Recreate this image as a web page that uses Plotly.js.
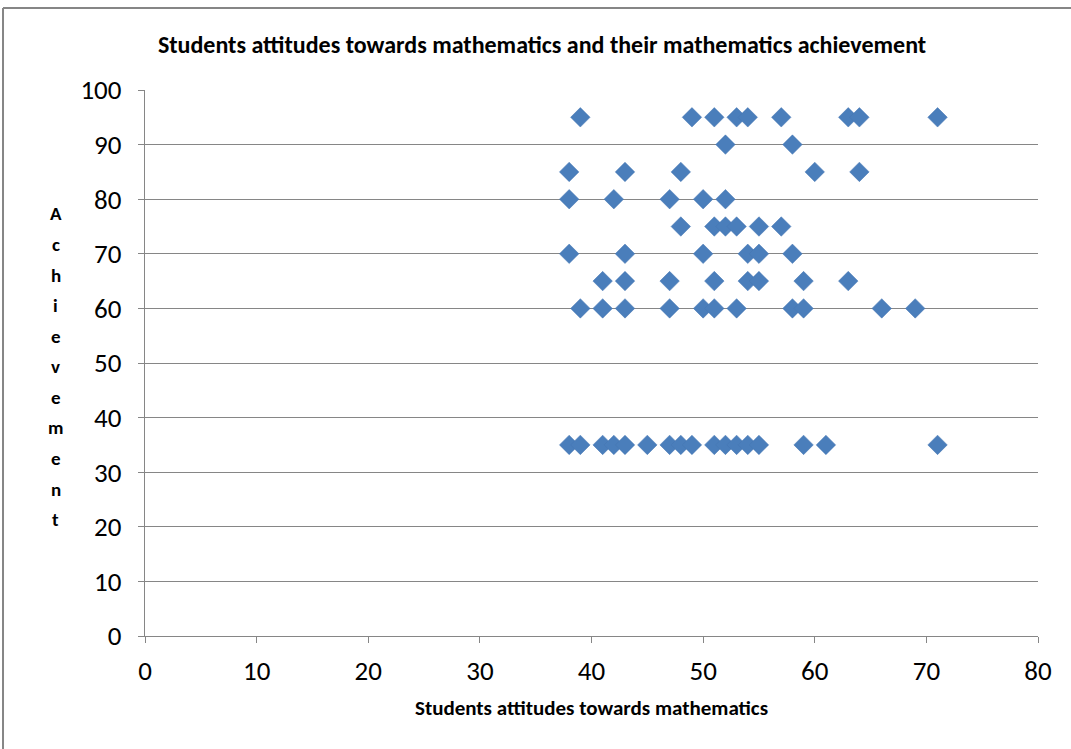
<!DOCTYPE html>
<html>
<head>
<meta charset="utf-8">
<script src="https://cdn.plot.ly/plotly-3.0.1.min.js"></script>
<style>
html,body{margin:0;padding:0;background:#fff;}
#chart{width:1071px;height:749px;}
</style>
</head>
<body>
<div id="chart"></div>
<script>
// Data: attitude score (x) and achievement (y)
const row95x = [39, 49, 51, 53, 54, 57, 63, 64, 71];
const row90x = [52, 58];
const row85x = [38, 43, 48, 60, 64];
const row80x = [38, 42, 47, 50, 52];
const row75x = [48, 51, 52, 53, 55, 57];
const row70x = [38, 43, 50, 54, 55, 58];
const row65x = [41, 43, 47, 51, 54, 55, 59, 63];
const row60x = [39, 41, 43, 47, 50, 51, 53, 58, 59, 66, 69];
const row35x = [38, 39, 41, 42, 43, 45, 47, 48, 49, 51, 52, 53, 54, 55, 59, 61, 71];

const rows = [
  [95, row95x], [90, row90x], [85, row85x], [80, row80x], [75, row75x],
  [70, row70x], [65, row65x], [60, row60x], [35, row35x]
];
const attitude = [];
const achievement = [];
rows.forEach(([yv, xs]) => xs.forEach(xv => { attitude.push(xv); achievement.push(yv); }));

const chartTitle = 'Students attitudes towards mathematics and their mathematics achievement';
const xTitle = 'Students attitudes towards mathematics';
const yTitle = 'Achievement';
const xTicks = [0, 10, 20, 30, 40, 50, 60, 70, 80];
const yTicks = [0, 10, 20, 30, 40, 50, 60, 70, 80, 90, 100];

const FONT = 'Carlito, Calibri, "Liberation Sans Narrow", "Open Sans", sans-serif';

// vertical stacked y title letters
const letters = yTitle.split('');
const yTop = 0.773, yBot = 0.213;
const annotations = letters.map((ch, i) => ({
  text: '<b>' + ch + '</b>',
  xref: 'paper', yref: 'paper',
  x: -0.1, y: yTop - i * (yTop - yBot) / (letters.length - 1),
  xanchor: 'center', yanchor: 'middle',
  showarrow: false,
  font: {family: FONT, size: 19, color: '#000'}
}));

const trace = {
  type: 'scatter', mode: 'markers',
  x: attitude, y: achievement,
  marker: {symbol: 'diamond', size: 15, color: '#4a7ebb', line: {width: 0.5, color: '#4677b3'}},
  hoverinfo: 'x+y'
};

const layout = {
  width: 1071, height: 749,
  margin: {l: 145, r: 33, t: 90, b: 113},
  paper_bgcolor: '#fff', plot_bgcolor: '#fff',
  showlegend: false,
  title: {
    text: '<b>' + chartTitle + '</b>',
    font: {family: FONT, size: 24, color: '#000'},
    x: 0.4446, xanchor: 'center', xref: 'paper',
    y: 0.941, yanchor: 'middle', yref: 'container'
  },
  xaxis: {
    range: [0, 80], tickvals: xTicks, ticktext: xTicks.map(String),
    showgrid: false, zeroline: false,
    showline: true, linecolor: '#868686', linewidth: 1.3,
    ticks: 'outside', ticklen: 6, tickcolor: '#868686', tickwidth: 1.3,
    ticklabelstandoff: 4,
    tickfont: {family: FONT, size: 27, color: '#000'},
    title: {text: '<b>' + xTitle + '</b>', font: {family: FONT, size: 21, color: '#000'}, standoff: 14},
    fixedrange: true
  },
  yaxis: {
    range: [0, 100], tickvals: yTicks, ticktext: yTicks.map(String),
    showgrid: true, gridcolor: '#868686', gridwidth: 1.3,
    zeroline: false,
    showline: true, linecolor: '#868686', linewidth: 1.3,
    ticks: 'outside', ticklen: 6, tickcolor: '#868686', tickwidth: 1.3,
    ticklabelstandoff: 11,
    tickfont: {family: FONT, size: 27, color: '#000'},
    fixedrange: true
  },
  annotations: annotations,
  shapes: [
    {type: 'line', xref: 'paper', yref: 'paper', x0: -0.159, x1: 1.05, y0: 1.150, y1: 1.150,
     line: {color: '#868686', width: 2}},
    {type: 'line', xref: 'paper', yref: 'paper', x0: -0.159, x1: -0.159, y0: 1.150, y1: -0.25,
     line: {color: '#868686', width: 2}}
  ]
};

Plotly.newPlot('chart', [trace], layout, {displayModeBar: false, staticPlot: false});
</script>
</body>
</html>
